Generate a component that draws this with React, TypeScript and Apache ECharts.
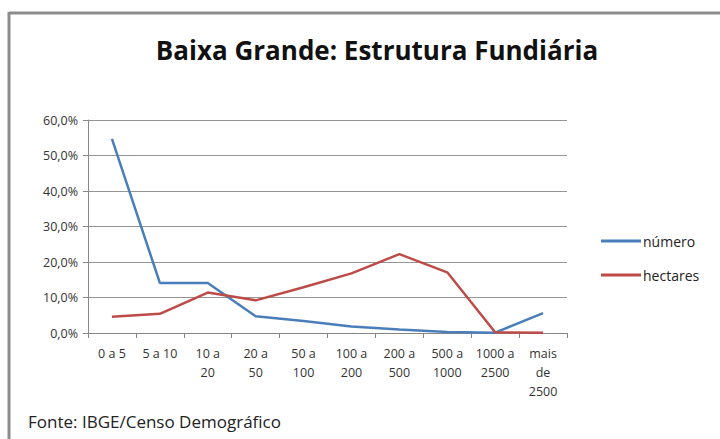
import React, { useEffect, useRef } from "react";
import * as echarts from "echarts";

const categories = [
  "0 a 5",
  "5 a 10",
  "10 a\n20",
  "20 a\n50",
  "50 a\n100",
  "100 a\n200",
  "200 a\n500",
  "500 a\n1000",
  "1000 a\n2500",
  "mais\nde\n2500",
];
const numero = [54.7, 14.1, 14.1, 4.7, 3.4, 1.8, 1.0, 0.3, 0.1, 5.6];
const hectares = [4.6, 5.4, 11.4, 9.2, 12.9, 16.8, 22.2, 17.1, 0.2, 0.1];
const seriesNames = ["número", "hectares"];
const titleText = "Baixa Grande: Estrutura Fundiária";
const sourceText = "Fonte: IBGE/Censo Demográfico";

const FONT = "'Open Sans', 'Noto Sans', sans-serif";

export default function App() {
  const ref = useRef<HTMLDivElement>(null);
  useEffect(() => {
    if (!ref.current) return;
    const chart = echarts.init(ref.current, undefined, { renderer: "svg" });
    chart.setOption({
      animation: false,
      backgroundColor: "#ffffff",
      title: {
        text: titleText,
        left: 372,
        textAlign: "center",
        top: 32,
        textStyle: {
          fontFamily: FONT,
          fontSize: 26,
          fontWeight: "bold",
          color: "#111111",
        },
      },
      graphic: [
        {
          type: "line",
          shape: { x1: 9, y1: 13, x2: 720, y2: 13 },
          style: { stroke: "#8c8c8c", lineWidth: 3 },
        },
        {
          type: "line",
          shape: { x1: 9, y1: 12, x2: 9, y2: 439 },
          style: { stroke: "#8c8c8c", lineWidth: 3 },
        },
        {
          type: "text",
          x: 28,
          y: 421,
          style: {
            text: sourceText,
            fontFamily: FONT,
            fontSize: 17,
            fill: "#222222",
            textVerticalAlign: "middle",
          },
        },
      ],
      legend: {
        orient: "vertical",
        left: 596,
        top: 229,
        itemWidth: 40,
        itemHeight: 3,
        itemGap: 20,
        icon: "rect",
        textStyle: { fontFamily: FONT, fontSize: 14, color: "#222222", padding: [0, 0, 0, -3] },
        data: seriesNames,
      },
      grid: { left: 88, right: 153, top: 120, bottom: 106 },
      xAxis: {
        type: "category",
        data: categories,
        boundaryGap: true,
        axisLine: { lineStyle: { color: "#868686", width: 1 } },
        axisTick: { show: true, alignWithLabel: false, length: 5, lineStyle: { color: "#868686" } },
        axisLabel: {
          interval: 0,
          fontFamily: FONT,
          fontSize: 12.5,
          color: "#333333",
          lineHeight: 19,
          margin: 11,
        },
      },
      yAxis: {
        type: "value",
        min: 0,
        max: 60,
        interval: 10,
        axisLine: { show: true, lineStyle: { color: "#868686" } },
        axisTick: { show: true, length: 5, lineStyle: { color: "#868686" } },
        splitLine: { lineStyle: { color: "#959595", width: 1 } },
        axisLabel: {
          fontFamily: FONT,
          fontSize: 12.5,
          color: "#333333",
          margin: 10,
          formatter: (v: number) => v.toFixed(1).replace(".", ",") + "%",
        },
      },
      series: [
        {
          name: seriesNames[0],
          type: "line",
          data: numero,
          symbol: "none",
          lineStyle: { color: "#4a7ebb", width: 2.5 },
          itemStyle: { color: "#4a7ebb" },
        },
        {
          name: seriesNames[1],
          type: "line",
          data: hectares,
          symbol: "none",
          lineStyle: { color: "#be4b48", width: 2.5 },
          itemStyle: { color: "#be4b48" },
        },
      ],
    });
    return () => chart.dispose();
  }, []);
  return <div ref={ref} style={{ width: 720, height: 439, position: "absolute", left: 0, top: 0 }} />;
}
